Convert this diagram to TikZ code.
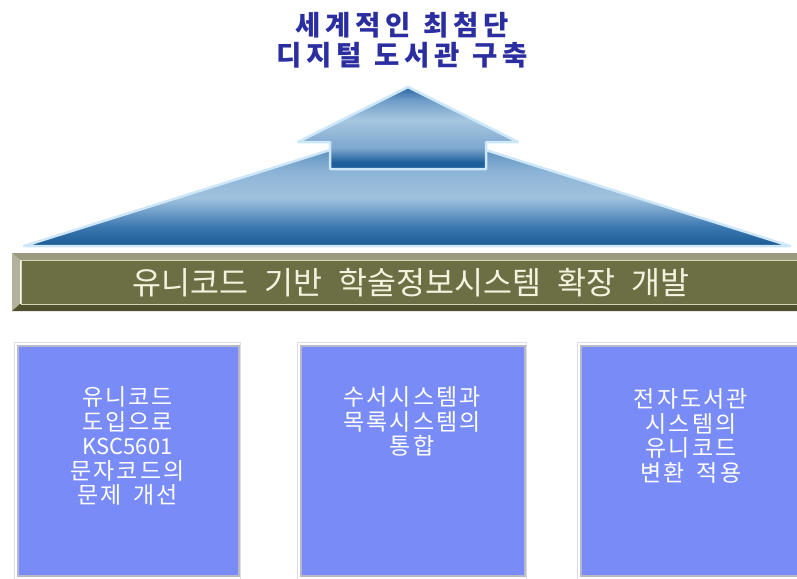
\documentclass[tikz,border=0pt]{standalone}
\usepackage{fontspec}
\setmainfont{Noto Sans CJK KR}
\newfontfamily\titlefont{Noto Sans CJK KR}[LetterSpace=18]
\newfontfamily\barfont{Noto Sans CJK KR}
\newfontfamily\boxfont{Noto Sans CJK KR}[LetterSpace=9]
\newfontfamily\boxlatin{Noto Sans CJK KR}
\definecolor{titleblue}{RGB}{42,46,160}
\definecolor{glow}{RGB}{206,231,248}
\definecolor{roofA}{RGB}{26,90,150}
\definecolor{roofB}{RGB}{60,120,176}
\definecolor{roofC}{RGB}{160,194,222}
\definecolor{roofD}{RGB}{140,180,214}
\definecolor{roofE}{RGB}{44,106,165}
\definecolor{arrA}{RGB}{30,95,155}
\definecolor{arrB}{RGB}{126,168,207}
\definecolor{arrC}{RGB}{166,198,224}
\definecolor{arrD}{RGB}{110,157,200}
\definecolor{arrE}{RGB}{40,102,162}
\definecolor{barface}{RGB}{108,110,68}
\definecolor{bartop}{RGB}{154,154,128}
\definecolor{barleft}{RGB}{178,178,156}
\definecolor{barbottom}{RGB}{78,80,46}
\definecolor{barline}{RGB}{214,214,182}
\definecolor{bartext}{RGB}{244,242,222}
\definecolor{boxblue}{RGB}{121,139,246}
\definecolor{boxedge}{RGB}{184,184,204}
\definecolor{boxouter}{RGB}{222,222,232}
\pgfdeclareverticalshading{roofshade}{100bp}{color(0bp)=(roofA); color(25bp)=(roofA); color(33bp)=(roofB); color(45bp)=(roofC); color(56bp)=(roofD); color(75bp)=(roofE); color(100bp)=(roofE)}
\pgfdeclareverticalshading{arrowshade}{100bp}{color(0bp)=(arrA); color(25bp)=(arrA); color(29bp)=(arrA); color(38bp)=(arrB); color(55bp)=(arrC); color(67bp)=(arrD); color(75bp)=(arrE); color(100bp)=(arrE)}
\tikzset{
  boxst/.style={fill=boxblue, draw=boxedge, line width=1.5pt, inner sep=0pt, anchor=north west, minimum width=221pt, minimum height=230pt},
  boxtext/.style={text=white, align=center, inner sep=0pt, font=\boxfont\fontsize{23}{24.5}\selectfont},
}
\begin{document}
\begin{tikzpicture}[x=1pt,y=-1pt]
\useasboundingbox[fill=white] (0,0) rectangle (797,578);
% title
\node[text=titleblue, align=center, inner sep=0pt, font=\titlefont\bfseries\fontsize{27.5}{29.5}\selectfont] (title) at (402,40) {세계적인\hspace*{12pt}최첨단\\디지털\hspace*{12pt}도서관\hspace*{12pt}구축};
% roof triangle
\path[shading=roofshade, draw=glow, line width=2.5pt, line join=round] (24,246) -- (408,125.5) -- (790,246) -- cycle;
% arrow
\path[shading=arrowshade, draw=glow, line width=2.5pt, line join=round] (408,87) -- (518,142) -- (486,142) -- (486,169) -- (330,169) -- (330,142) -- (298,142) -- cycle;
% bar
\fill[bartop] (12,253) -- (800,253) -- (800,260) -- (20,260) -- cycle;
\fill[barleft] (12,253) -- (20,260) -- (20,304) -- (12,311) -- cycle;
\fill[barbottom] (12,311) -- (20,304) -- (800,304) -- (800,311) -- cycle;
\node[fill=barface, draw=barline, line width=1pt, inner sep=0pt, anchor=north west, minimum width=782pt, minimum height=44pt] (barface) at (20.5,260) {};
\node[text=bartext, inner sep=0pt, font=\barfont\fontsize{31.5}{34}\selectfont] (bar) at (411,283) {유니코드\hspace*{16pt}기반\hspace*{16pt}학술정보시스템\hspace*{16pt}확장\hspace*{16pt}개발};
% boxes
\draw[boxouter, line width=1pt] (14.5,342.5) rectangle (240.5,580);
\draw[boxouter, line width=1pt] (297.5,342.5) rectangle (526.5,580);
\draw[boxouter, line width=1pt] (577.5,342.5) rectangle (810,580);
\node[boxst] (b1) at (17,345) {};
\node[boxst, minimum width=224pt] (b2) at (300,345) {};
\node[boxst, minimum width=230pt] (b3) at (580,345) {};
\node[boxtext] (t1) at (127.5,446) {유니코드\\도입으로\\{\boxlatin\fontsize{22}{24.5}\selectfont KSC5601}\\문자코드의\\문제\hspace*{12pt}개선};
\node[boxtext] (t2) at (412,421.5) {수서시스템과\\목록시스템의\\통합};
\node[boxtext] (t3) at (691,435.75) {전자도서관\\시스템의\\유니코드\\변환\hspace*{12pt}적용};
\end{tikzpicture}
\end{document}
